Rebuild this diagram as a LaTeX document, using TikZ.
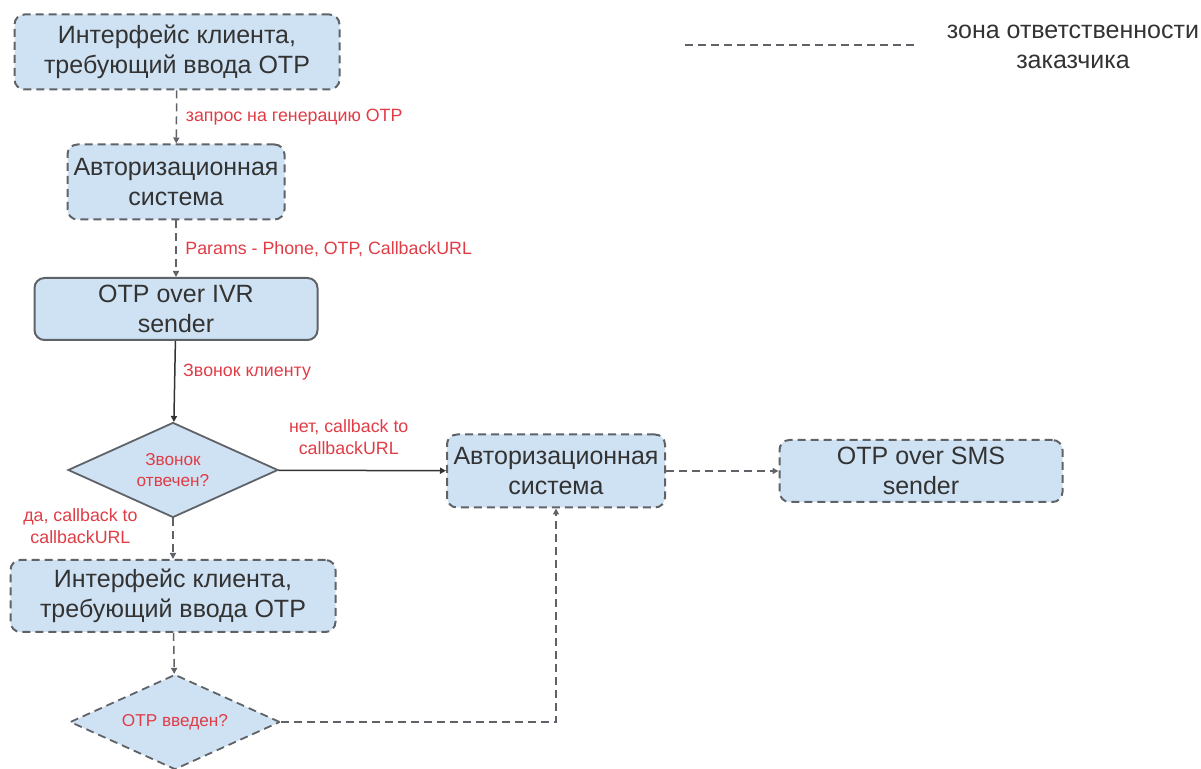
\documentclass[tikz,border=0pt]{standalone}
\usepackage{fontspec}
\setmainfont{Liberation Sans}
\usetikzlibrary{shapes.geometric,arrows.meta}
\definecolor{boxfill}{HTML}{CFE2F3}
\definecolor{boxline}{HTML}{5F6368}
\definecolor{labelred}{HTML}{E03C46}
\begin{document}
\begin{tikzpicture}[x=0.5pt, y=-0.5pt,
    box/.style={rectangle, rounded corners=5pt, align=center, draw=boxline, fill=boxfill, line width=1pt, font=\fontsize{12.5}{15}\selectfont, text=black!80, inner sep=0pt},
    dbox/.style={box, dash pattern=on 4pt off 2.5pt},
    ask/.style={diamond, aspect=2.2, draw=boxline, fill=boxfill, line width=0.9pt, align=center, inner sep=0pt, minimum width=105pt, minimum height=47.5pt, text=labelred, font=\fontsize{8.6}{10.5}\selectfont},
    note/.style={text=labelred, align=center, font=\fontsize{8.9}{11}\selectfont},
    link/.style={draw=black!80, line width=0.75pt, -{Triangle[length=3pt, width=3pt]}},
    dlink/.style={link, draw=boxline, dash pattern=on 4pt off 2.5pt}]
\useasboundingbox (0,0) rectangle (1201,769);
\node at (177, 52) (client)[dbox, minimum width=162.5pt, minimum height=37.5pt] {Интерфейс клиента,\\требующий ввода OTP};
\node at (176, 182) (auth)[dbox, minimum width=108.5pt, minimum height=37.5pt] {Авторизационная\\система};
\node at (176, 309) (ivr)[box, minimum width=141.5pt, minimum height=31pt] {OTP over IVR\\sender};
\node at (173, 470) (called)[ask] {Звонок\\отвечен?};
\node at (556, 471) (authb)[dbox, minimum width=109pt, minimum height=36.5pt] {Авторизационная\\система};
\node at (921, 471) (sms)[dbox, minimum width=141.5pt, minimum height=31pt] {OTP over SMS\\sender};
\node at (173, 596) (clientb)[dbox, minimum width=162.5pt, minimum height=36pt] {Интерфейс клиента,\\требующий ввода OTP};
\node at (175, 722) (entered)[ask, dash pattern=on 4pt off 2.5pt] {OTP введен?};
\coordinate (legA) at (685, 45);
\coordinate (legB) at (917, 45);
\node at (1073, 47) (legend)[align=center, text=black!80, font=\fontsize{12.5}{15}\selectfont] {зона ответственности\\заказчика};
\draw [dlink] (client) -- (auth) node[note, right=1pt, midway] {запрос на генерацию OTP};
\draw [dlink] (auth) -- (ivr) node[note, right=1pt, midway] {Params - Phone, OTP, CallbackURL};
\draw [link] (ivr) -- (called) node[note, right=0.5pt, pos=0.38] {Звонок клиенту};
\draw [link] (called) -- (authb) node[note, above=4pt, pos=0.42] {нет, callback to\\callbackURL};
\draw [dlink] (authb) -- (sms);
\draw [dlink] (called) -- (clientb) node[note, left=14pt, pos=0.2] {да, callback to\\callbackURL};
\draw [dlink] (clientb) -- (entered);
\draw [dlink] (entered.east) -| (authb.south);
\draw [draw=boxline, line width=0.8pt, dash pattern=on 4pt off 2.5pt] (legA) -- (legB);
\end{tikzpicture}
\end{document}
